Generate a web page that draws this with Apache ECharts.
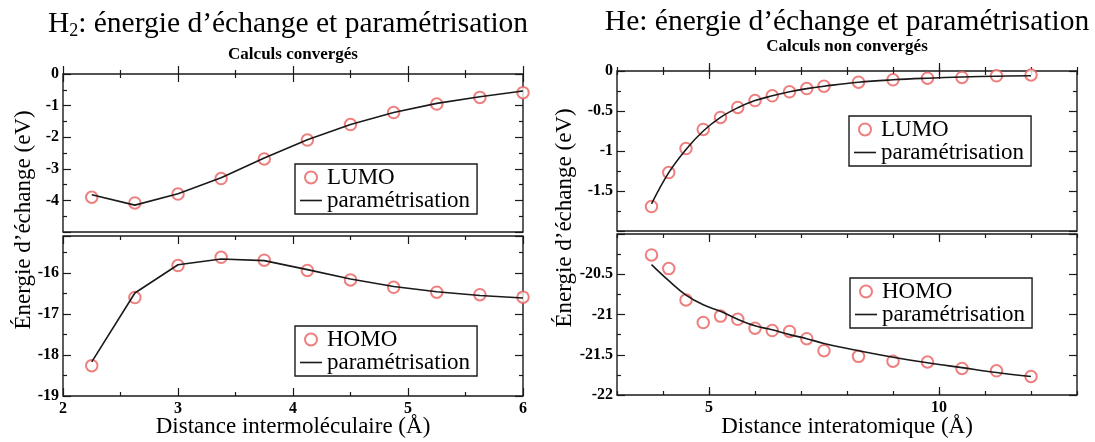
<!DOCTYPE html>
<html>
<head>
<meta charset="utf-8">
<script src="https://cdn.jsdelivr.net/npm/echarts@6/dist/echarts.min.js"></script>
<style>
  html, body { margin: 0; padding: 0; background: #fff; }
  #chart { width: 1095px; height: 442px; }
</style>
</head>
<body>
<div id="chart"></div>
<script>
// H2 : distance intermoléculaire
var h2Dist = [2.25, 2.625, 3, 3.375, 3.75, 4.125, 4.5, 4.875, 5.25, 5.625, 6];
var h2Lumo = [-3.9, -4.08, -3.8, -3.31, -2.69, -2.09, -1.6, -1.22, -0.95, -0.74, -0.59];
var h2LumoFit = [-3.82, -4.15, -3.79, -3.28, -2.66, -2.08, -1.6, -1.22, -0.93, -0.72, -0.54];
var h2Homo = [-18.26, -16.6, -15.82, -15.62, -15.69, -15.94, -16.17, -16.35, -16.47, -16.53, -16.59];
var h2HomoFit = [-18.17, -16.49, -15.8, -15.66, -15.7, -15.92, -16.15, -16.33, -16.46, -16.55, -16.61];

// He : distance interatomique
var heDist = [3.75, 4.125, 4.5, 4.875, 5.25, 5.625, 6, 6.375, 6.75, 7.125, 7.5, 8.25, 9, 9.75, 10.5, 11.25, 12];
var heLumo = [-1.695, -1.27, -0.97, -0.73, -0.58, -0.455, -0.37, -0.31, -0.26, -0.22, -0.19, -0.14, -0.11, -0.09, -0.08, -0.06, -0.05];
var heLumoFit = [-1.66, -1.27, -0.98, -0.75, -0.58, -0.46, -0.37, -0.31, -0.26, -0.22, -0.19, -0.14, -0.11, -0.09, -0.075, -0.065, -0.06];
var heHomo = [-20.26, -20.43, -20.82, -21.1, -21.02, -21.06, -21.17, -21.2, -21.21, -21.3, -21.45, -21.52, -21.58, -21.59, -21.67, -21.7, -21.77];
var heHomoFit = [-20.38, -20.58, -20.76, -20.88, -20.96, -21.06, -21.14, -21.19, -21.25, -21.3, -21.36, -21.45, -21.53, -21.6, -21.66, -21.72, -21.77];

var heMajorX = [5, 10];

var SERIF = '"Liberation Serif", "DejaVu Serif", serif';
var RED = '#e8605f';
var INK = '#1a1a1a';

function pairs(xs, ys) {
  return xs.map(function (x, i) { return [x, ys[i]]; });
}

// un axe "xmgrace" : graduations vers l'intérieur, pas de ligne (le cadre vient du grid)
function ax(grid, pos, min, max, interval, minor, labels, extra) {
  var a = {
    type: 'value', gridIndex: grid, position: pos, min: min, max: max, interval: interval,
    axisLine: { show: false },
    axisTick: { show: true, inside: true, length: 8, lineStyle: { color: INK, width: 1.2 } },
    minorTick: { show: minor > 0, splitNumber: minor || 2, length: 4, lineStyle: { color: INK, width: 1.2 } },
    splitLine: { show: false },
    axisLabel: {
      show: !!labels, color: '#000', fontFamily: SERIF, fontWeight: 'bold', fontSize: 16,
      margin: pos === 'bottom' ? 5 : 4
    }
  };
  for (var k in extra) {
    if (typeof extra[k] === 'object' && a[k]) Object.assign(a[k], extra[k]);
    else a[k] = extra[k];
  }
  return a;
}

var grids = [
  { left: 63, top: 74, width: 460, height: 158 },
  { left: 63, top: 236, width: 460, height: 160 },
  { left: 617, top: 71, width: 460, height: 160 },
  { left: 617, top: 234, width: 460, height: 161 }
].map(function (g) {
  return Object.assign({ show: true, borderColor: INK, borderWidth: 1.4, backgroundColor: 'transparent' }, g);
});

var heMain = { axisTick: { customValues: heMajorX }, axisLabel: { customValues: heMajorX } };

var xAxes = [
  ax(0, 'bottom', 2, 6, 1, 2, false),              // 0
  ax(0, 'top', 2, 6, 1, 2, false),                 // 1
  ax(1, 'bottom', 2, 6, 1, 2, true),               // 2
  ax(1, 'top', 2, 6, 1, 2, false),                 // 3
  ax(2, 'bottom', 3, 13, 1, 0, false, heMain),     // 4
  ax(2, 'bottom', 3, 13, 1, 0, false, { axisTick: { length: 4 } }), // 5
  ax(2, 'top', 3, 13, 1, 0, false, heMain),        // 6
  ax(2, 'top', 3, 13, 1, 0, false, { axisTick: { length: 4 } }),    // 7
  ax(3, 'bottom', 3, 13, 1, 0, true, heMain),      // 8
  ax(3, 'bottom', 3, 13, 1, 0, false, { axisTick: { length: 4 } }), // 9
  ax(3, 'top', 3, 13, 1, 0, false, heMain),        // 10
  ax(3, 'top', 3, 13, 1, 0, false, { axisTick: { length: 4 } })     // 11
];

var yAxes = [
  ax(0, 'left', -5, 0, 1, 2, true, { axisLabel: { showMinLabel: false } }),
  ax(0, 'right', -5, 0, 1, 2, false),
  ax(1, 'left', -19, -15.1, 1, 2, true, { axisLabel: { showMaxLabel: false } }),
  ax(1, 'right', -19, -15.1, 1, 2, false),
  ax(2, 'left', -2, 0, 0.5, 2, true, { axisLabel: { showMinLabel: false } }),
  ax(2, 'right', -2, 0, 0.5, 2, false),
  ax(3, 'left', -22, -20, 0.5, 2, true, { axisLabel: { showMaxLabel: false } }),
  ax(3, 'right', -22, -20, 0.5, 2, false)
];

function pts(name, xi, yi, data) {
  return {
    name: name, type: 'scatter', xAxisIndex: xi, yAxisIndex: yi, data: data,
    symbol: 'emptyCircle', symbolSize: 11.5, z: 2,
    itemStyle: { color: RED, borderColor: RED, borderWidth: 1.5 }
  };
}
function fit(xi, yi, data, smooth) {
  return {
    name: 'paramétrisation', type: 'line', xAxisIndex: xi, yAxisIndex: yi, data: data,
    symbol: 'none', smooth: smooth, z: 3,
    lineStyle: { color: INK, width: 1.6 }, itemStyle: { color: INK }
  };
}

var series = [
  pts('LUMO', 0, 0, pairs(h2Dist, h2Lumo)),
  fit(0, 0, pairs(h2Dist, h2LumoFit), false),
  pts('HOMO', 2, 2, pairs(h2Dist, h2Homo)),
  fit(2, 2, pairs(h2Dist, h2HomoFit), false),
  pts('LUMO', 4, 4, pairs(heDist, heLumo)),
  fit(4, 4, pairs(heDist, heLumoFit), 0.4),
  pts('HOMO', 8, 6, pairs(heDist, heHomo)),
  fit(8, 6, pairs(heDist, heHomoFit), 0.4)
];

var LINE_ICON = 'path://M0,0 L22,0 L22,1.6 L0,1.6 Z';

function leg(name, left, top) {
  return {
    left: left, top: top, orient: 'vertical',
    data: [name, { name: 'paramétrisation', icon: LINE_ICON, itemStyle: { color: INK } }],
    selectedMode: false, itemGap: 0, itemWidth: 22, itemHeight: 12, symbolKeepAspect: true,
    padding: [2, 7, 2, 5], borderColor: INK, borderWidth: 1.4, backgroundColor: '#fff',
    textStyle: { fontFamily: SERIF, fontSize: 23, color: '#000' }
  };
}

function txt(x, y, s, size, rot, rich, weight) {
  var o = {
    type: 'text', x: x, y: y, rotation: rot || 0, z: 10,
    style: {
      text: s, fill: '#000', font: (weight ? weight + ' ' : '') + size + 'px ' + SERIF,
      align: 'center', verticalAlign: 'middle', textAlign: 'center', textVerticalAlign: 'middle'
    }
  };
  if (rich) o.style.rich = rich;
  return o;
}

var titleRich = {
  a: { fontFamily: SERIF, fontSize: 29.5, color: '#000' },
  s: { fontFamily: SERIF, fontSize: 18, color: '#000', padding: [15, 0, 0, 0] }
};

var chart = echarts.init(document.getElementById('chart'), null, { renderer: 'canvas' });
chart.setOption({
  animation: false,
  backgroundColor: '#fff',
  grid: grids,
  xAxis: xAxes,
  yAxis: yAxes,
  series: series,
  legend: [
    leg('LUMO', 295, 164),
    leg('HOMO', 295, 326),
    leg('LUMO', 849, 116),
    leg('HOMO', 850, 278)
  ],
  graphic: [
    txt(288, 24, '{a|H}{s|2}{a|: énergie d’échange et paramétrisation}', 29.5, 0, titleRich),
    txt(293, 55, 'Calculs convergés', 17, 0, null, 'bold'),
    txt(847, 22, 'He: énergie d’échange et paramétrisation', 29.5),
    txt(847, 47, 'Calculs non convergés', 17, 0, null, 'bold'),
    txt(24, 220, 'Énergie d’échange (eV)', 23, Math.PI / 2),
    txt(565, 218, 'Énergie d’échange (eV)', 23, Math.PI / 2),
    txt(293, 427, 'Distance intermoléculaire (Å)', 23),
    txt(847, 427, 'Distance interatomique (Å)', 23)
  ]
});
</script>
</body>
</html>
